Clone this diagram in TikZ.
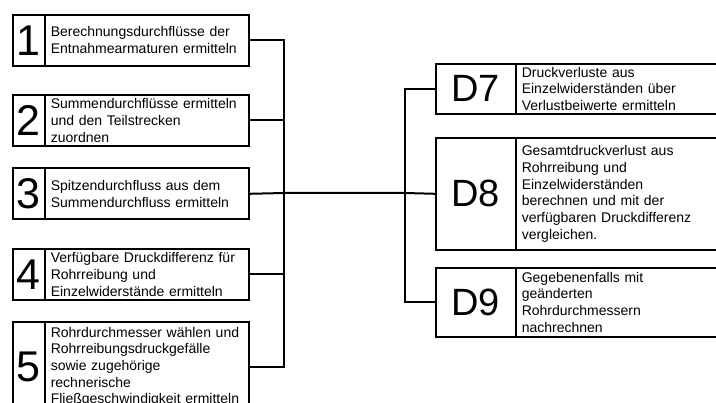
\documentclass[tikz,border=0pt]{standalone}
\usepackage{fontspec}
\setmainfont{Liberation Sans}
\usetikzlibrary{positioning}
\tikzset{
	numbox/.style={draw,line width=1.6pt,rectangle,inner sep=0pt,anchor=north west,
		minimum width=32pt,font=\fontsize{43}{43}\selectfont},
	descbox/.style={draw,line width=1.6pt,rectangle,inner xsep=6pt,inner ysep=0pt,
		text width=192pt,align=left,font=\fontsize{14}{16.7}\selectfont},
	dnumbox/.style={numbox,minimum width=80pt,font=\fontsize{38}{38}\selectfont},
	ddescbox/.style={descbox,text width=233pt},
	wire/.style={line width=2pt}
}

\begin{document}
\begin{tikzpicture}[x=1pt,y=1pt,node distance=-1.6pt]

\useasboundingbox (0,0) rectangle (716,-403);
\clip (0,0) rectangle (716,-403);

% left column
\node[numbox,minimum height=51pt] at (12,-14) (n1) {1};
\node[descbox,minimum height=51pt,right=of n1] (t1) {Berechnungsdurchflüsse der\\Entnahmearmaturen ermitteln};
\node[numbox,minimum height=51pt] at (12,-94) (n2) {2};
\node[descbox,minimum height=51pt,right=of n2] (t2) {Summendurchflüsse ermitteln\\und den Teilstrecken\\zuordnen};
\node[numbox,minimum height=51pt] at (12,-167.5) (n3) {3};
\node[descbox,minimum height=51pt,right=of n3] (t3) {Spitzendurchfluss aus dem\\Summendurchfluss ermitteln};
\node[numbox,minimum height=51pt] at (12,-248) (n4) {4};
\node[descbox,minimum height=51pt,right=of n4] (t4) {Verfügbare Druckdifferenz für\\Rohrreibung und\\Einzelwiderstände ermitteln};
\node[numbox,minimum height=90pt] at (12,-321) (n5) {5};
\node[descbox,minimum height=90pt,right=of n5] (t5) {Rohrdurchmesser wählen und\\Rohrreibungsdruckgefälle\\sowie zugehörige\\rechnerische\\Fließgeschwindigkeit ermitteln};

% right column
\node[dnumbox,minimum height=50pt] at (435,-63) (d7) {D7};
\node[ddescbox,minimum height=50pt,right=of d7] (e7) {Druckverluste aus\\Einzelwiderständen über\\Verlustbeiwerte ermitteln};
\node[dnumbox,minimum height=112pt] at (435,-137) (d8) {D8};
\node[ddescbox,minimum height=112pt,right=of d8] (e8) {Gesamtdruckverlust aus\\Rohrreibung und\\Einzelwiderständen\\berechnen und mit der\\verfügbaren Druckdifferenz\\vergleichen.};
\node[dnumbox,minimum height=69pt] at (435,-267) (d9) {D9};
\node[ddescbox,minimum height=69pt,right=of d9] (e9) {Gegebenenfalls mit\\geänderten\\Rohrdurchmessern\\nachrechnen};

% connectors
\coordinate (lbus) at (284,-193);
\coordinate (rbus) at (405,-193);
\draw[wire] (t1.east) -| (lbus) |- (t5.east);
\draw[wire] (t2.east) -- (t2.east -| lbus);
\draw[wire] (t4.east) -- (t4.east -| lbus);
\draw[wire] (t3.east) -- (lbus) -- (rbus) -- (d8.west);
\draw[wire] (d7.west) -| (rbus) |- (d9.west);

\end{tikzpicture}
\end{document}
